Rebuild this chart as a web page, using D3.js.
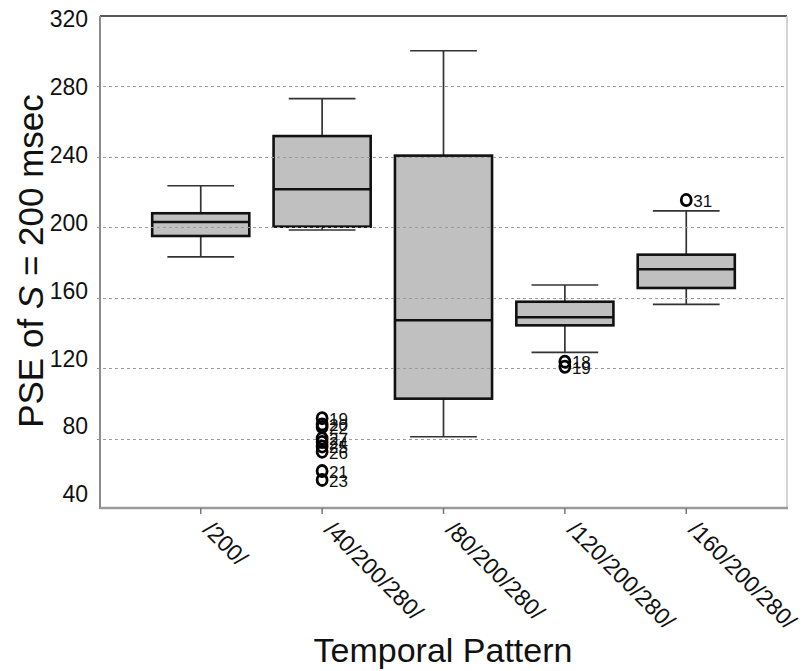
<!DOCTYPE html>
<meta charset="utf-8">
<style>

body {
  margin: 0;
  font-family: 'Liberation Sans', Arial, sans-serif;
  background: #fff;
}

svg {
  display: block;
}

.box {
  fill: #c0c0c0;
  stroke: #111;
  stroke-width: 2.6px;
}

.median {
  stroke: #111;
  stroke-width: 2.6px;
}

.whisker {
  stroke: #333;
  stroke-width: 1.7px;
  fill: none;
}

.grid line {
  stroke: #9a9a9a;
  stroke-width: 1.2px;
  stroke-dasharray: 3,3;
}

.outlier ellipse {
  fill: none;
  stroke: #000;
  stroke-width: 2.8px;
}

.outlier text {
  font-size: 17px;
  fill: #111;
}

</style>
<body>

<script src="https://cdn.jsdelivr.net/npm/d3@7"></script>
<script>

// temporal patterns on the x axis
var categories = ["/200/", "/40/200/280/", "/80/200/280/", "/120/200/280/", "/160/200/280/"];

// box statistics, one value per category
var whiskerLow  = [183.1, 198.3,  81.0, 128.9, 156.1];
var quartile1   = [194.9, 200.2, 102.6, 144.2, 165.4];
var median      = [202.8, 221.4, 147.1, 148.8, 176.0];
var quartile3   = [207.8, 251.6, 240.5, 157.6, 184.3];
var whiskerHigh = [223.4, 272.8, 300.0, 167.1, 209.2];

// outliers: category, value, case number
var outlierCategory = ["/40/200/280/", "/40/200/280/", "/40/200/280/", "/40/200/280/", "/40/200/280/",
                       "/40/200/280/", "/40/200/280/", "/40/200/280/", "/40/200/280/",
                       "/120/200/280/", "/120/200/280/", "/160/200/280/"];
var outlierValue = [91.5, 88.0, 86.5, 80.0, 78.0, 75.5, 72.5, 61.5, 56.5, 123.6, 120.7, 215.3];
var outlierId    = ["19", "20", "22", "27", "24", "25", "26", "21", "23", "18", "19", "31"];

var yTicks = [40, 80, 120, 160, 200, 240, 280, 320];
var gridTicks = [80, 120, 160, 200, 240, 280];

var width = 803,
    height = 671,
    plotLeft = 100,
    plotRight = 787,
    plotTop = 16,
    plotBottom = 508;

var svg = d3.select("body")
    .append("svg")
    .attr("width", width)
    .attr("height", height);

var x = d3.scalePoint()
    .domain(categories)
    .range([plotLeft, plotRight])
    .padding(0.83);

var y = d3.scaleLinear()
    .domain([40, 320])
    .range([plotBottom + 1, plotTop - 0.5]);

// the printed tick labels sit on a slightly tighter ladder than the grid
var yLabel = d3.scaleLinear()
    .domain([40, 320])
    .range([494, 19]);

var boxWidth = x.step() * 0.8,
    capWidth = x.step() * 0.55;

var boxes = categories.map(function(c, i) {
    return {
        cat: c,
        lo: whiskerLow[i],
        q1: quartile1[i],
        med: median[i],
        q3: quartile3[i],
        hi: whiskerHigh[i]
    };
});

var outliers = outlierValue.map(function(v, i) {
    return { cat: outlierCategory[i], value: v, id: outlierId[i] };
});

// boxes and whiskers
var g = svg.append("g").attr("class", "boxes");

var b = g.selectAll("g")
    .data(boxes)
    .enter().append("g");

b.append("line")
    .attr("class", "whisker")
    .attr("x1", function(d) { return x(d.cat); })
    .attr("x2", function(d) { return x(d.cat); })
    .attr("y1", function(d) { return y(d.hi); })
    .attr("y2", function(d) { return y(d.q3); });

b.append("line")
    .attr("class", "whisker")
    .attr("x1", function(d) { return x(d.cat); })
    .attr("x2", function(d) { return x(d.cat); })
    .attr("y1", function(d) { return y(d.q1); })
    .attr("y2", function(d) { return y(d.lo); });

b.append("line")
    .attr("class", "whisker")
    .attr("x1", function(d) { return x(d.cat) - capWidth / 2; })
    .attr("x2", function(d) { return x(d.cat) + capWidth / 2; })
    .attr("y1", function(d) { return y(d.hi); })
    .attr("y2", function(d) { return y(d.hi); });

b.append("line")
    .attr("class", "whisker")
    .attr("x1", function(d) { return x(d.cat) - capWidth / 2; })
    .attr("x2", function(d) { return x(d.cat) + capWidth / 2; })
    .attr("y1", function(d) { return y(d.lo); })
    .attr("y2", function(d) { return y(d.lo); });

b.append("rect")
    .attr("class", "box")
    .attr("x", function(d) { return x(d.cat) - boxWidth / 2; })
    .attr("width", boxWidth)
    .attr("y", function(d) { return y(d.q3); })
    .attr("height", function(d) { return y(d.q1) - y(d.q3); });

b.append("line")
    .attr("class", "median")
    .attr("x1", function(d) { return x(d.cat) - boxWidth / 2; })
    .attr("x2", function(d) { return x(d.cat) + boxWidth / 2; })
    .attr("y1", function(d) { return y(d.med); })
    .attr("y2", function(d) { return y(d.med); });

// dotted grid drawn over the boxes, as in the print
svg.append("g")
    .attr("class", "grid")
    .selectAll("line")
    .data(gridTicks)
    .enter().append("line")
    .attr("x1", plotLeft - 3)
    .attr("x2", plotRight)
    .attr("y1", function(d) { return Math.round(y(d)) + 0.5; })
    .attr("y2", function(d) { return Math.round(y(d)) + 0.5; });

// outliers
var o = svg.append("g")
    .attr("class", "outlier")
    .selectAll("g")
    .data(outliers)
    .enter().append("g")
    .attr("transform", function(d) { return "translate(" + x(d.cat) + "," + y(d.value) + ")"; });

o.append("ellipse")
    .attr("rx", 5)
    .attr("ry", 5.6);

o.append("text")
    .attr("x", 7)
    .attr("dy", "0.4em")
    .text(function(d) { return d.id; });

// frame
svg.append("line")
    .attr("x1", plotLeft).attr("x2", plotRight)
    .attr("y1", plotTop).attr("y2", plotTop)
    .attr("stroke", "#222").attr("stroke-width", 1.5);
svg.append("line")
    .attr("x1", plotRight).attr("x2", plotRight)
    .attr("y1", plotTop).attr("y2", plotBottom)
    .attr("stroke", "#c8c8c8").attr("stroke-width", 1.5);
svg.append("line")
    .attr("x1", plotLeft).attr("x2", plotLeft)
    .attr("y1", plotTop).attr("y2", plotBottom + 1)
    .attr("stroke", "#8c8c8c").attr("stroke-width", 2);
svg.append("line")
    .attr("x1", plotLeft).attr("x2", plotRight + 1)
    .attr("y1", plotBottom).attr("y2", plotBottom)
    .attr("stroke", "#9a9a9a").attr("stroke-width", 2.5);

// x ticks and rotated labels
var xa = svg.append("g").attr("class", "x-axis");

xa.selectAll("line")
    .data(categories)
    .enter().append("line")
    .attr("x1", function(d) { return x(d); })
    .attr("x2", function(d) { return x(d); })
    .attr("y1", plotBottom)
    .attr("y2", plotBottom + 6)
    .attr("stroke", "#777")
    .attr("stroke-width", 1.5);

xa.selectAll("text")
    .data(categories)
    .enter().append("text")
    .attr("transform", function(d) { return "translate(" + (x(d) + 1) + "," + 531 + ") rotate(45)"; })
    .style("font-size", "23px")
    .style("fill", "#111")
    .text(function(d) { return d; });

// y tick labels
svg.append("g")
    .attr("class", "y-axis")
    .selectAll("text")
    .data(yTicks)
    .enter().append("text")
    .attr("x", 88)
    .attr("y", function(d) { return yLabel(d); })
    .attr("dy", "0.36em")
    .attr("text-anchor", "end")
    .style("font-size", "23px")
    .style("fill", "#111")
    .text(function(d) { return d; });

// axis titles
svg.append("text")
    .attr("x", 443)
    .attr("y", 662)
    .attr("text-anchor", "middle")
    .style("font-size", "34px")
    .style("fill", "#111")
    .text("Temporal Pattern");

var yt = svg.append("text")
    .attr("transform", "translate(43,261) rotate(-90)")
    .attr("text-anchor", "middle")
    .style("font-size", "35px")
    .style("fill", "#111");
yt.append("tspan").text("PSE of ");
yt.append("tspan").style("font-style", "italic").text("S");
yt.append("tspan").text(" = 200 msec");

</script>

</body>
